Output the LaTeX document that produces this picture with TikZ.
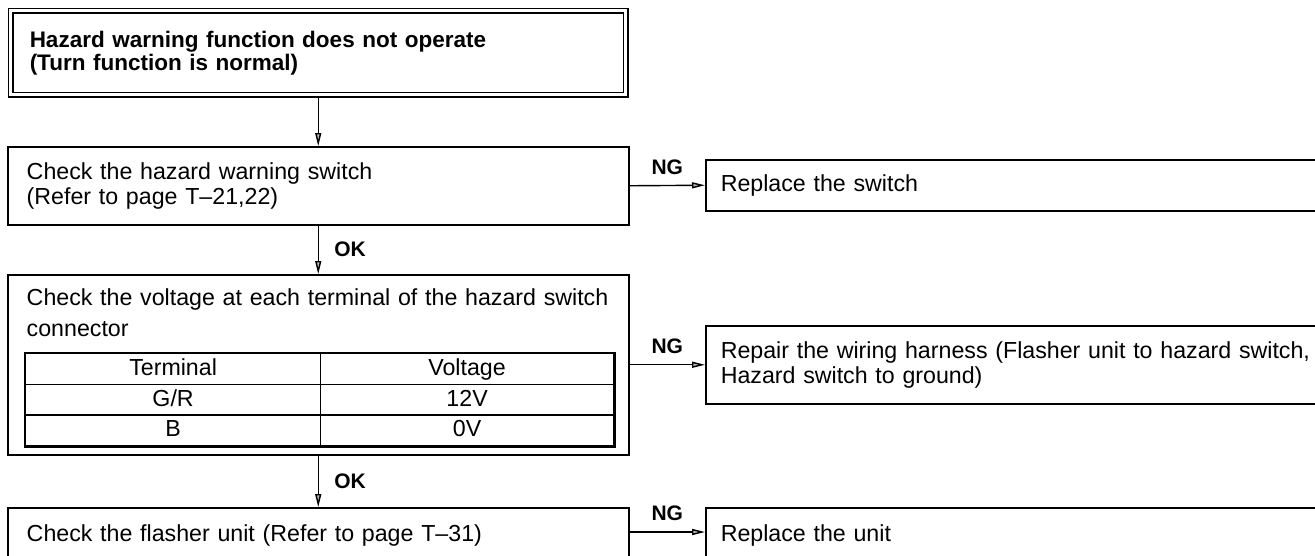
\documentclass[tikz,border=0pt]{standalone}
\usepackage{fontspec}
\setmainfont{Liberation Sans}
\usetikzlibrary{arrows.meta}
\tikzset{
  box/.style={draw, line width=1.5pt, anchor=north west, align=left, inner ysep=8pt, font=\fontsize{23.2}{25}\selectfont},
  khead/.style={box, double, double distance=3pt, inner xsep=19pt, text width=577pt, minimum height=84pt, font=\fontsize{22.5}{23}\selectfont\bfseries},
  kcheck/.style={box, inner xsep=19pt, text width=583pt},
  kfix/.style={box, inner xsep=15pt, text width=620pt},
  kcell/.style={draw, line width=1.2pt, anchor=north west, minimum height=31pt, inner sep=0pt, text height=17pt, text depth=5pt, font=\fontsize{23.2}{25}\selectfont},
  flow/.style={-{Triangle[length=13pt, width=6pt, fill=gray!60]}, line width=1.4pt},
}

\begin{document}
\begin{tikzpicture}[x=1pt, y=-1pt]
    \useasboundingbox (0,0) rectangle (1315,555);
    \clip (0,0) rectangle (1315,555);
    \node[khead] (head) at (10,10) {Hazard warning function does not operate\\(Turn function is normal)};
    \node[kcheck, minimum height=78pt] (hzsw) at (7,146) {Check the hazard warning switch\\(Refer to page T--21,22)};
    \node[kcheck, text height=23pt, text depth=141pt] (volt) at (7,274) {\mbox{Check the voltage at each terminal of the hazard switch}\\[6pt]connector};
    \node[kcheck, text height=26pt, text depth=80pt] (flash) at (7,507) {Check the flasher unit (Refer to page T--31)};
    \node[kfix, minimum height=51pt] (rsw) at (705,159) {Replace the switch};
    \node[kfix, minimum height=78pt] (rwire) at (705,325) {Repair the wiring harness (Flasher unit to hazard switch,\\Hazard switch to ground)};
    \node[kfix, text height=26pt, text depth=80pt] (runit) at (705,507) {Replace the unit};
    \node[kcell, minimum width=295pt] (term) at (25,353) {Terminal};
    \node[kcell, minimum width=293pt] (vltg) at (320,353) {Voltage};
    \node[kcell, minimum width=295pt] (gr) at (25,384) {G/R};
    \node[kcell, minimum width=293pt] (v12) at (320,384) {12V};
    \node[kcell, minimum width=295pt] (blk) at (25,414) {B};
    \node[kcell, minimum width=293pt] (v0) at (320,414) {0V};
    \draw[line width=2.6pt] (term.north west) rectangle (v0.south east);
    \coordinate (ngunit) at (0,532);
    \draw[flow] (head.south) -- (hzsw.north);
    \draw[flow] (hzsw.south) -- (volt.north) node[midway, right=12pt, font=\fontsize{21}{24}\selectfont\bfseries]{OK};
    \draw[flow] (volt.south) -- (flash.north) node[midway, right=12pt, font=\fontsize{21}{24}\selectfont\bfseries]{OK};
    \draw[flow] (hzsw.east) -- (rsw.west) node[midway, above=7pt, font=\fontsize{21}{24}\selectfont\bfseries]{NG};
    \draw[flow] (volt.east) -- (rwire.west) node[midway, above=7pt, font=\fontsize{21}{24}\selectfont\bfseries]{NG};
    \draw[flow] (flash.east |- ngunit) -- (runit.west |- ngunit) node[midway, above=7pt, font=\fontsize{21}{24}\selectfont\bfseries]{NG};
  \end{tikzpicture}
\end{document}
